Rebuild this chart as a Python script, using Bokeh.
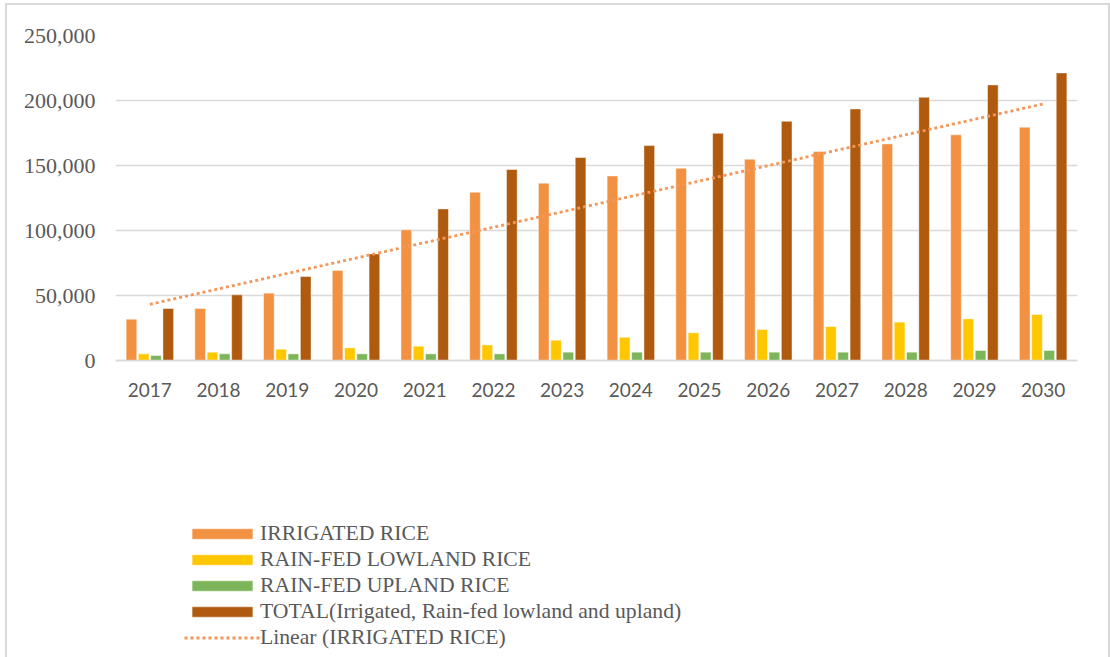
import numpy as np
from bokeh.plotting import figure
from bokeh.models import (ColumnDataSource, FactorRange, NumeralTickFormatter,
                          Legend, LegendItem, FixedTicker, InlineStyleSheet, Range1d)
from bokeh.transform import dodge
from bokeh.embed import file_html
from bokeh.resources import INLINE

years = ["2017", "2018", "2019", "2020", "2021", "2022", "2023",
         "2024", "2025", "2026", "2027", "2028", "2029", "2030"]
irrigated = [31800, 40000, 51800, 69200, 100500, 129400, 136400,
             142000, 147900, 154800, 160700, 166600, 173600, 179400]
lowland = [5100, 6400, 8700, 9700, 11000, 12000, 15600,
           17900, 21300, 23800, 26100, 29500, 32000, 35400]
upland = [3800, 5100, 5100, 5100, 5100, 5100, 6400,
          6400, 6400, 6400, 6400, 6400, 7700, 7700]
total = [40000, 50500, 64600, 82000, 116600, 146900, 156100,
         165300, 174800, 184000, 193500, 202500, 212000, 221200]
y_ticks = [0, 50000, 100000, 150000, 200000, 250000]

series_labels = ["IRRIGATED RICE", "RAIN-FED LOWLAND RICE", "RAIN-FED UPLAND RICE",
                 "TOTAL(Irrigated, Rain-fed lowland and upland)"]
trend_label = "Linear (IRRIGATED RICE)"

C_IRR = "#F29142"
C_LOW = "#FFC700"
C_UP = "#7DB65A"
C_TOT = "#AF5A0E"
GREY_TXT = "#595959"
GRID = "#D9D9D9"

# least-squares trend of the irrigated series
xi = np.arange(len(years))
slope, intercept = np.polyfit(xi, irrigated, 1)
trend = list(intercept + slope * xi)

src = ColumnDataSource(dict(year=years, irr=irrigated, low=lowland,
                            up=upland, tot=total, trend=trend))

# page geometry: the plotting frame runs down to the bottom edge so the
# legend underneath the chart stays inside it; value 0 sits at y = 360 px
W, H = 1110, 657
TOP, ZERO = 35, 360
Y_MAX = 250000
per_px = Y_MAX / (ZERO - TOP)
y_min = -(H - ZERO) * per_px

# thin frame around the whole chart (open at the bottom)
frame_css = InlineStyleSheet(css="""
:host { position: relative; }
:host::after {
  content: "";
  position: absolute;
  left: 5px; top: 3px; width: 1101px; height: 720px;
  border: 2px solid #D9D9D9; border-bottom: none;
  pointer-events: none;
}
""")

p = figure(width=W, height=H, x_range=FactorRange(*years),
           y_range=Range1d(y_min, Y_MAX), output_backend="svg", toolbar_location=None,
           min_border_left=115, min_border_right=33,
           min_border_top=TOP, min_border_bottom=0,
           stylesheets=[frame_css])
p.outline_line_color = None
p.background_fill_color = "white"
p.border_fill_color = "white"

w = 0.155
offs = [-0.268, -0.089, 0.089, 0.268]
bars = []
for off, col, c in zip(offs, ["irr", "low", "up", "tot"], [C_IRR, C_LOW, C_UP, C_TOT]):
    r = p.vbar(x=dodge("year", off, range=p.x_range), top=col, width=w, source=src,
               fill_color=c, line_color="white", line_alpha=0.45, line_width=1)
    bars.append(r)

tl = p.line(x="year", y="trend", source=src, line_color="#F3975A",
            line_width=2.8, line_dash="3 3")

# axes
p.yaxis.ticker = FixedTicker(ticks=y_ticks)
p.yaxis.formatter = NumeralTickFormatter(format="0,0")
p.yaxis.axis_line_color = None
p.yaxis.major_tick_line_color = None
p.yaxis.minor_tick_line_color = None
p.yaxis.major_tick_out = 0
p.yaxis.major_label_standoff = 20
p.yaxis.major_label_text_font = "Liberation Serif"
p.yaxis.major_label_text_font_size = "22px"
p.yaxis.major_label_text_color = GREY_TXT

p.xaxis.fixed_location = 0
p.xaxis.axis_line_color = GRID
p.xaxis.axis_line_width = 1.5
p.xaxis.major_tick_line_color = None
p.xaxis.minor_tick_line_color = None
p.xaxis.major_tick_out = 0
p.xaxis.major_label_standoff = 22
p.xaxis.major_label_text_font = "Lato"
p.xaxis.major_label_text_font_size = "19px"
p.xaxis.major_label_text_color = GREY_TXT

p.xgrid.grid_line_color = None
p.ygrid.grid_line_color = GRID
p.ygrid.grid_line_width = 1.5

legend = Legend(items=[LegendItem(label=lab, renderers=[r]) for lab, r in zip(series_labels, bars)]
                + [LegendItem(label=trend_label, renderers=[tl])],
                location=(69, 7), orientation="vertical",
                glyph_width=76, glyph_height=13, label_height=20, spacing=1,
                label_standoff=0, padding=0, margin=0,
                border_line_color=None, background_fill_alpha=0,
                label_text_font="Liberation Serif", label_text_font_size="21.7px",
                label_text_color=GREY_TXT)
p.add_layout(legend, "center")

open("out.html", "w").write(file_html(p, INLINE))
